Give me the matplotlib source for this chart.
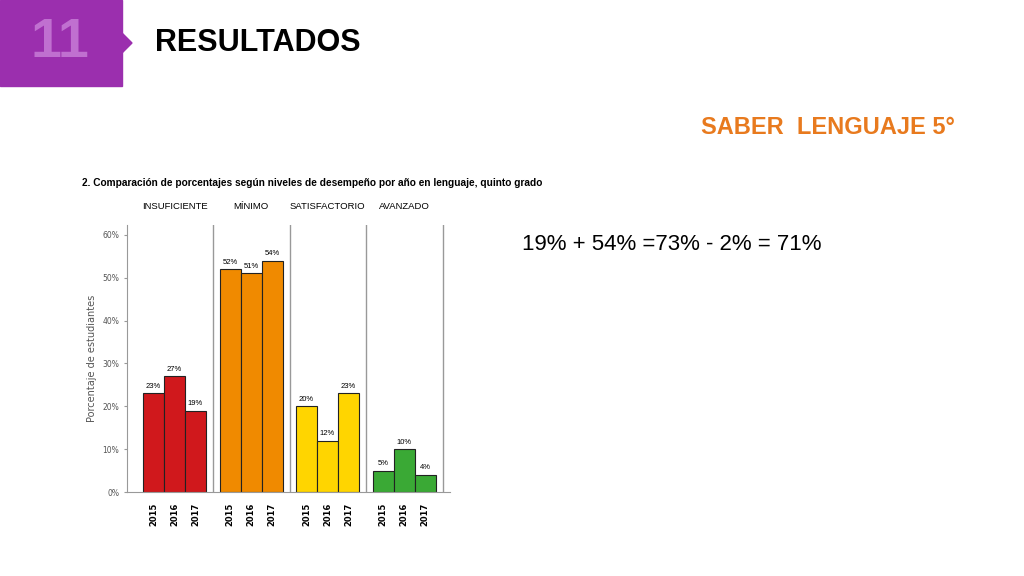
import matplotlib.pyplot as plt
from matplotlib.patches import Rectangle, Polygon

niveles = ['INSUFICIENTE', 'MÍNIMO', 'SATISFACTORIO', 'AVANZADO']
anios = ['2015', '2016', '2017']
valores = [[23, 27, 19], [52, 51, 54], [20, 12, 23], [5, 10, 4]]
colores = ['#d0181c', '#f08a00', '#ffd500', '#3aa935']
yticks = [0, 10, 20, 30, 40, 50, 60]

fig = plt.figure(figsize=(10.24, 5.76), dpi=100)
W, H = 1024, 576

# slide header
fig.patches.append(Rectangle((0, 1 - 86 / H), 122 / W, 86 / H, transform=fig.transFigure,
                             color='#9b2fae', zorder=0))
fig.patches.append(Polygon([(122 / W, 1 - 33 / H), (132 / W, 1 - 43 / H), (122 / W, 1 - 53 / H)],
                           transform=fig.transFigure, color='#9b2fae'))
fig.text(60 / W, 1 - 43 / H, '11', color='#c070d0', fontsize=40, fontweight='bold',
         ha='center', va='center', family='Liberation Sans')
fig.text(155 / W, 1 - 43 / H, 'RESULTADOS', fontsize=22, fontweight='bold',
         va='center', family='Liberation Sans')
fig.text(955 / W, 1 - 127 / H, 'SABER  LENGUAJE 5°', fontsize=17, fontweight='bold',
         color='#e87a1e', ha='right', va='center', family='Liberation Sans')
fig.text(522 / W, 1 - 245 / H, '19% + 54% =73% - 2% = 71%', fontsize=16,
         va='center', family='Liberation Sans')
fig.text(82 / W, 1 - 183 / H,
         '2. Comparación de porcentajes según niveles de desempeño por año en lenguaje, quinto grado',
         fontsize=7.3, fontweight='bold', va='center', family='Liberation Sans')

# chart (x in pixel-like units)
ax = fig.add_axes([127 / W, 84 / H, 323 / W, 267 / H])
bw = 21
step = 76.5
for g, (vals, c) in enumerate(zip(valores, colores)):
    x0 = 16 + g * step
    xs = [x0 + bw / 2 + i * bw for i in range(3)]
    ax.bar(xs, vals, width=bw, color=c, edgecolor='#222222', linewidth=0.8)
    for i, (x, v) in enumerate(zip(xs, vals)):
        ax.text(x, v + 0.8, f'{v}%', ha='center', va='bottom', fontsize=5.5,
                family='Liberation Sans')
        ax.text(x, -2.5, anios[i], rotation=90, ha='center', va='top',
                fontsize=6, fontweight='bold')
    ax.axvline(86 + g * step, color='#999999', linewidth=1)
    ax.text(x0 + 1.5 * bw, 65.5, niveles[g], ha='center', va='bottom', fontsize=6.8,
            family='Liberation Sans')

ax.set_xlim(0, 323)
ax.set_ylim(0, 62.3)
ax.set_xticks([])
ax.set_yticks(yticks)
ax.set_yticklabels([f'{t}%' for t in yticks], fontsize=5.5, color='#555555')
ax.tick_params(axis='y', length=2, color='#999999')
for s in ['top', 'right']:
    ax.spines[s].set_visible(False)
ax.spines['left'].set_color('#999999')
ax.spines['bottom'].set_color('#999999')
ax.set_ylabel('Porcentaje de estudiantes', fontsize=7, color='#555555', labelpad=4)

fig.savefig('out.png', dpi=100)
